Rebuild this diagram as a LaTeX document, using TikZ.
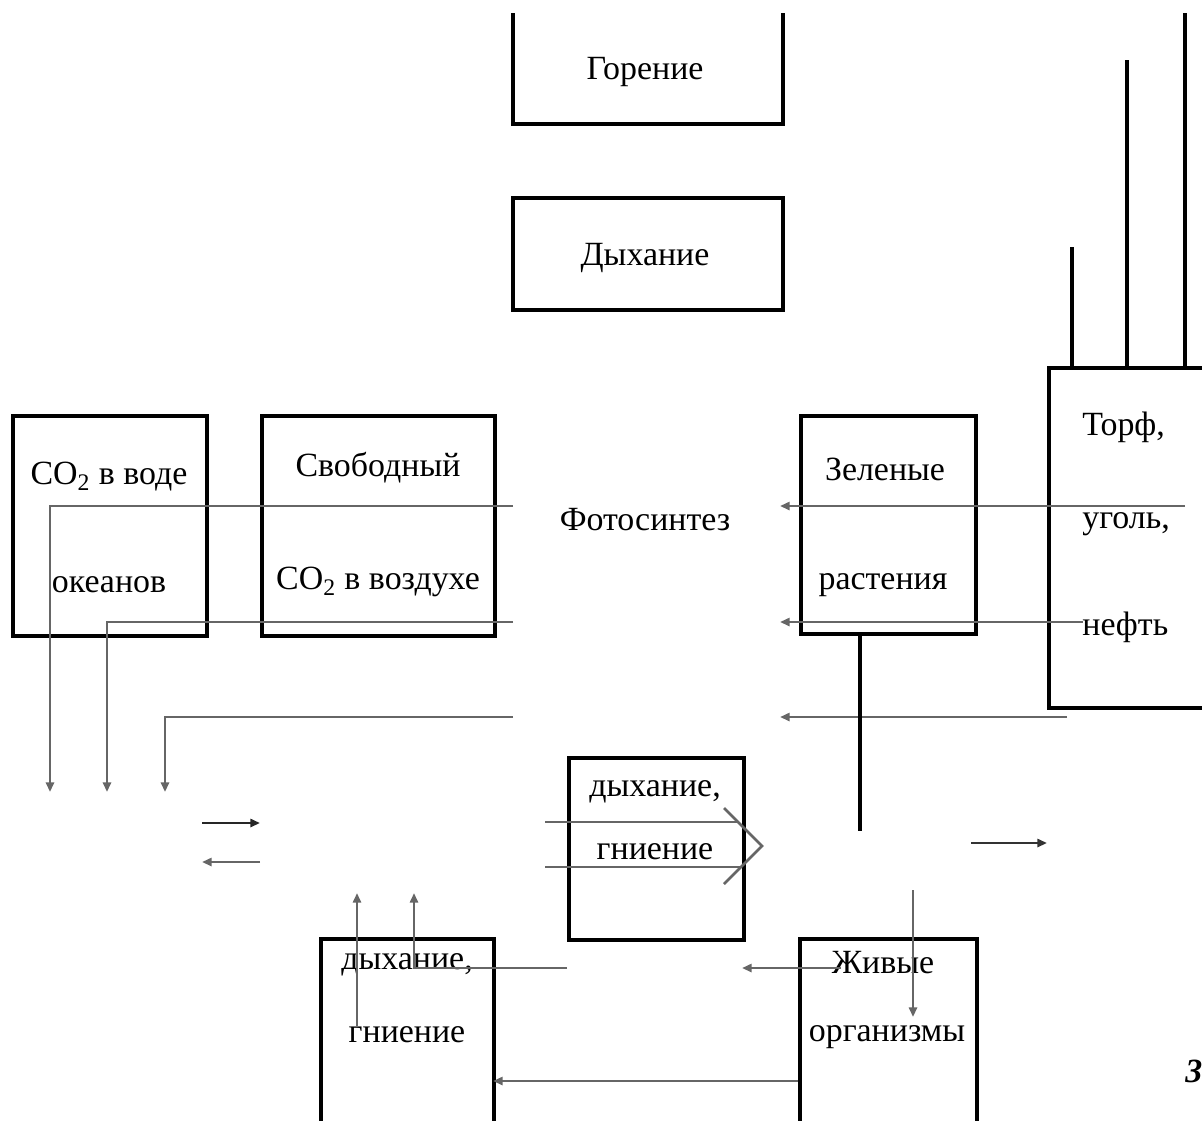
\documentclass[tikz,border=0pt]{standalone}
\usepackage{fontspec}
\setmainfont{Liberation Serif}
\usetikzlibrary{arrows.meta,fit}

\begin{document}
\begin{tikzpicture}[x=0.02cm, y=-0.02cm,
    box/.style={draw, line width=2.1pt, inner sep=0pt},
    txt/.style={inner sep=0pt, font=\fontsize{19.3}{23}\selectfont},
    flow/.style={draw=black!60, line width=1.45pt},
    tip/.style={-{Triangle[length=5.5pt, width=4.6pt]}},
    stem/.style={line width=2.1pt}]
    \useasboundingbox (0,0) rectangle (1202,1120);

    \draw[stem] (513,13) |- (783,124) -- (783,13);
    \node[txt] (gorenie) at (645,72) {Горение};
    \node[box, fit={(513,198) (783,310)}] (dyh) {};
    \node[txt] (dyh-a) at (645,258) {Дыхание};

    \node[box, fit={(13,416) (207,636)}] (voda) {};
    \node[txt] (voda-a) at (109,477) {CO\textsubscript{2} в воде};
    \node[txt] (voda-b) at (109,585) {океанов};
    \node[box, fit={(262,416) (495,636)}] (svob) {};
    \node[txt] (svob-a) at (378,468) {Свободный};
    \node[txt] (svob-b) at (378,582) {CO\textsubscript{2} в воздухе};
    \node[txt] (foto) at (645,520) {Фотосинтез};
    \node[box, fit={(801,416) (976,634)}] (zel) {};
    \node[txt] (zel-a) at (885,469) {Зеленые};
    \node[txt] (zel-b) at (883,585) {растения};
    \node[box, fit={(1049,368) (1215,708)}] (torf) {};
    \node[txt, anchor=west] (torf-a) at (1082,427) {Торф,};
    \node[txt, anchor=west] (torf-b) at (1082,524) {уголь,};
    \node[txt, anchor=west] (torf-c) at (1082,627) {нефть};

    \node[box, fit={(569,758) (744,940)}] (mid) {};
    \node[txt] (mid-a) at (655,792) {дыхание,};
    \node[txt] (mid-b) at (655,852) {гниение};
    \node[box, fit={(321,939) (494,1140)}] (gni) {};
    \node[txt] (gni-a) at (407,965) {дыхание,};
    \node[txt] (gni-b) at (407,1035) {гниение};
    \node[box, fit={(800,939) (977,1140)}] (zhiv) {};
    \node[txt] (zhiv-a) at (883,963) {Живые};
    \node[txt] (zhiv-b) at (887,1037) {организмы};
    \node[txt, anchor=west, font=\fontsize{19.3}{23}\selectfont\bfseries\itshape] (num) at (1185,1071) {3};

    \coordinate (t1) at (1072,247);
    \coordinate (t2) at (1127,60);
    \coordinate (t3) at (1185,13);
    \foreach \t in {t1,t2,t3}
        \draw[stem] (\t) -- (\t |- torf.north);

    \coordinate (l1) at (513,506);
    \coordinate (l2) at (513,622);
    \coordinate (l3) at (513,717);
    \coordinate (d1) at (50,792);
    \coordinate (d2) at (107,792);
    \coordinate (d3) at (165,792);
    \draw[flow, tip] (l1) -| (d1);
    \draw[flow, tip] (l2) -| (d2);
    \draw[flow, tip] (l3) -| (d3);

    \coordinate (r1) at (1185,506);
    \coordinate (r2) at (1083,622);
    \coordinate (r3) at (1067,717);
    \coordinate (e1) at (780,506);
    \coordinate (e2) at (780,622);
    \coordinate (e3) at (780,717);
    \draw[flow, tip] (r1) -- (e1);
    \draw[flow, tip] (r2) -- (e2);
    \draw[flow, tip] (r3) -- (e3);

    \coordinate (a1) at (202,823);
    \coordinate (a2) at (260,823);
    \coordinate (b1) at (260,862);
    \coordinate (b2) at (202,862);
    \draw[flow, draw=black!85, tip] (a1) -- (a2);
    \draw[flow, tip] (b1) -- (b2);

    \coordinate (m1) at (545,822);
    \coordinate (m2) at (545,867);
    \coordinate (c1) at (724,808);
    \coordinate (c2) at (762,846);
    \coordinate (c3) at (724,884);
    \draw[flow] (m1) -- (738,822);
    \draw[flow] (m2) -- (741,867);
    \draw[flow] (c1) -- (c2) -- (c3);

    \coordinate (z1) at (860,831);
    \draw[stem] (zel.south -| z1) -- (z1);
    \coordinate (g1) at (971,843);
    \coordinate (g2) at (1047,843);
    \draw[flow, draw=black!80, tip] (g1) -- (g2);
    \coordinate (h1) at (913,890);
    \coordinate (h2) at (913,1017);
    \draw[flow, tip] (h1) -- (h2);
    \coordinate (k1) at (841,968);
    \coordinate (k2) at (742,968);
    \draw[flow, tip] (k1) -- (k2);
    \coordinate (p1) at (567,968);
    \coordinate (p2) at (414,893);
    \draw[flow, tip] (p1) -| (p2);
    \coordinate (q1) at (357,1026);
    \coordinate (q2) at (357,893);
    \draw[flow, tip] (q1) -- (q2);
    \coordinate (s1) at (493,1081);
    \draw[flow, tip] (zhiv.west |- s1) -- (s1);
\end{tikzpicture}
\end{document}
